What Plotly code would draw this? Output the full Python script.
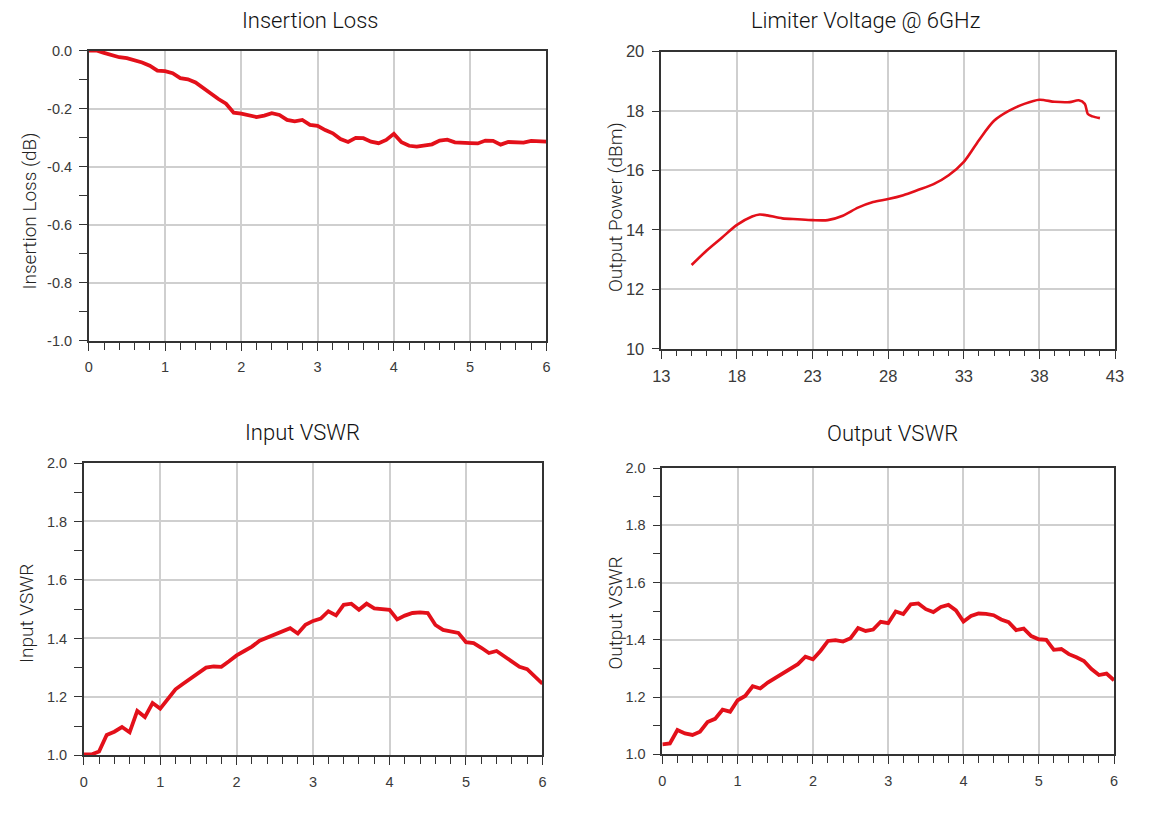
import plotly.graph_objects as go

# ---------------- data ----------------
freq = [round(i * 0.1, 1) for i in range(61)]

insertion_loss = [
    0.000, 0.000, -0.008, -0.015, -0.023, -0.026, -0.032, -0.041, -0.052, -0.069,
    -0.071, -0.078, -0.095, -0.099, -0.110, -0.129, -0.152, -0.167, -0.183, -0.214,
    -0.217, -0.222, -0.229, -0.224, -0.216, -0.222, -0.239, -0.244, -0.239, -0.256,
    -0.259, -0.274, -0.285, -0.305, -0.315, -0.301, -0.302, -0.314, -0.319, -0.308,
    -0.287, -0.316, -0.328, -0.331, -0.327, -0.323, -0.310, -0.307, -0.316, -0.319,
    -0.319, -0.320, -0.310, -0.311, -0.324, -0.315, -0.315, -0.317, -0.311, -0.311,
    -0.314,
]

input_vswr = [
    1.003, 1.003, 1.013, 1.070, 1.081, 1.097, 1.079, 1.152, 1.131, 1.179,
    1.160, 1.195, 1.226, 1.245, 1.264, 1.283, 1.300, 1.304, 1.303, 1.322,
    1.342, 1.357, 1.372, 1.392, 1.403, 1.412, 1.425, 1.435, 1.417, 1.447,
    1.460, 1.468, 1.493, 1.479, 1.515, 1.519, 1.498, 1.519, 1.503, 1.501,
    1.498, 1.465, 1.478, 1.487, 1.489, 1.487, 1.446, 1.429, 1.424, 1.419,
    1.387, 1.384, 1.368, 1.350, 1.357, 1.338, 1.323, 1.303, 1.295, 1.272,
    1.245,
]

output_vswr = [
    1.035, 1.038, 1.085, 1.073, 1.068, 1.079, 1.113, 1.124, 1.156, 1.149,
    1.189, 1.204, 1.238, 1.230, 1.251, 1.267, 1.282, 1.300, 1.315, 1.341,
    1.332, 1.361, 1.396, 1.399, 1.394, 1.406, 1.441, 1.431, 1.436, 1.463,
    1.458, 1.499, 1.490, 1.524, 1.527, 1.507, 1.497, 1.515, 1.522, 1.503,
    1.464, 1.483, 1.492, 1.491, 1.486, 1.471, 1.462, 1.434, 1.439, 1.413,
    1.402, 1.400, 1.365, 1.368, 1.350, 1.339, 1.326, 1.298, 1.277, 1.282,
    1.259,
]

limiter_vin = [15, 16, 17, 18, 19, 19.5, 20, 21, 22, 23, 24, 25, 26, 27, 28, 29,
               30, 31, 32, 33, 34, 35, 36, 37, 38, 39, 40, 40.6, 41, 41.2, 41.5, 42]
limiter_pout = [12.82, 13.31, 13.74, 14.17, 14.45, 14.52, 14.49, 14.39, 14.36, 14.33,
                14.33, 14.48, 14.75, 14.94, 15.04, 15.17, 15.35, 15.54, 15.84, 16.29,
                17.02, 17.67, 18.01, 18.24, 18.38, 18.31, 18.30, 18.36, 18.24, 17.90,
                17.82, 17.76]

il_ticks = [0.0, -0.2, -0.4, -0.6, -0.8, -1.0]
il_ticktext = ["0.0", "-0.2", "-0.4", "-0.6", "-0.8", "-1.0"]
vswr_ticks = [1.0, 1.2, 1.4, 1.6, 1.8, 2.0]
vswr_ticktext = ["1.0", "1.2", "1.4", "1.6", "1.8", "2.0"]
freq_ticks = [0, 1, 2, 3, 4, 5, 6]
lim_xticks = [13, 18, 23, 28, 33, 38, 43]
lim_yticks = [10, 12, 14, 16, 18, 20]

titles = ["Insertion Loss", "Limiter Voltage @ 6GHz", "Input VSWR", "Output VSWR"]
ytitles = ["Insertion Loss (dB)", "Output Power (dBm)", "Input VSWR", "Output VSWR"]

# ---------------- styling ----------------
W, H = 1148, 824
# page placement calibration: screen = A + B * figure_px
AX, BX = 16.2, 0.985
AY, BY = 16.5, 0.977

RED = "#e3101a"
GRID = "#cfcfcf"
AXLINE = "#333333"
TICKFONT = dict(family="Liberation Sans, Arial, sans-serif", size=14.5, color="#3a3a3a")
TICKFONT2 = dict(family="Liberation Sans Narrow, Arial Narrow, Liberation Sans, sans-serif",
                 size=16.5, color="#3a3a3a")


def fx(x):
    return ((x - AX) / BX) / W


def fy(y):
    return 1 - ((y - AY) / BY) / H


def px_dom_x(a, b):
    return [fx(a), fx(b)]


def px_dom_y(top, bottom):
    return [fy(bottom), fy(top)]


def axis_common():
    return dict(showline=True, linecolor=AXLINE, linewidth=1.6, mirror=True,
                showgrid=True, gridcolor=GRID, gridwidth=1.5, zeroline=False,
                ticks="outside", tickcolor=AXLINE, tickwidth=1.3, ticklen=8,
                ticklabelstandoff=4, fixedrange=True)


fig = go.Figure()

fig.add_trace(go.Scatter(x=freq, y=insertion_loss, mode="lines", xaxis="x", yaxis="y",
                         line=dict(color=RED, width=3.8), showlegend=False))
fig.add_trace(go.Scatter(x=limiter_vin, y=limiter_pout, mode="lines", xaxis="x2", yaxis="y2",
                         line=dict(color=RED, width=2.6, shape="spline", smoothing=0.8),
                         showlegend=False))
fig.add_trace(go.Scatter(x=freq, y=input_vswr, mode="lines", xaxis="x3", yaxis="y3",
                         line=dict(color=RED, width=3.8), showlegend=False))
fig.add_trace(go.Scatter(x=freq, y=output_vswr, mode="lines", xaxis="x4", yaxis="y4",
                         line=dict(color=RED, width=3.8), showlegend=False))

# panel boxes in reference pixels: (left, right, top, bottom)
boxes = [(88, 546, 50, 340), (661, 1115, 51, 348), (83, 542, 462, 754), (662, 1114, 467, 753)]

layout = dict(width=W, height=H, margin=dict(l=0, r=0, t=0, b=0),
              paper_bgcolor="white", plot_bgcolor="white", showlegend=False)

minor_x = dict(dtick=0.2, tick0=0, ticks="outside", ticklen=7, tickcolor=AXLINE,
               tickwidth=1.3, showgrid=False)
minor_y = dict(dtick=0.1, tick0=0, ticks="outside", ticklen=8, tickcolor=AXLINE,
               tickwidth=1.3, showgrid=False)

# Panel 1
layout["xaxis"] = dict(axis_common(), domain=px_dom_x(boxes[0][0], boxes[0][1]), anchor="y",
                       range=[0, 6], tickvals=freq_ticks, tickfont=TICKFONT, minor=minor_x)
layout["yaxis"] = dict(axis_common(), domain=px_dom_y(boxes[0][2], boxes[0][3]), anchor="x",
                       range=[-1, 0], tickvals=il_ticks, ticktext=il_ticktext, tickfont=TICKFONT,
                       minor=minor_y)
# Panel 2
layout["xaxis2"] = dict(axis_common(), domain=px_dom_x(boxes[1][0], boxes[1][1]), anchor="y2",
                        range=[13, 43], tickvals=lim_xticks, tickfont=TICKFONT2,
                        minor=dict(dtick=1, tick0=13, ticks="outside", ticklen=5,
                                   tickcolor=AXLINE, tickwidth=1.3, showgrid=False))
layout["yaxis2"] = dict(axis_common(), domain=px_dom_y(boxes[1][2], boxes[1][3]), anchor="x2",
                        range=[10, 20], tickvals=lim_yticks, tickfont=TICKFONT2)
# Panel 3
layout["xaxis3"] = dict(axis_common(), domain=px_dom_x(boxes[2][0], boxes[2][1]), anchor="y3",
                        range=[0, 6], tickvals=freq_ticks, tickfont=TICKFONT, minor=minor_x)
layout["yaxis3"] = dict(axis_common(), domain=px_dom_y(boxes[2][2], boxes[2][3]), anchor="x3",
                        range=[1, 2], tickvals=vswr_ticks, ticktext=vswr_ticktext, tickfont=TICKFONT,
                        minor=minor_y)
# Panel 4
layout["xaxis4"] = dict(axis_common(), domain=px_dom_x(boxes[3][0], boxes[3][1]), anchor="y4",
                        range=[0, 6], tickvals=freq_ticks, tickfont=TICKFONT, minor=minor_x)
layout["yaxis4"] = dict(axis_common(), domain=px_dom_y(boxes[3][2], boxes[3][3]), anchor="x4",
                        range=[1, 2], tickvals=vswr_ticks, ticktext=vswr_ticktext, tickfont=TICKFONT,
                        minor=minor_y)

fig.update_layout(**layout)

# Titles (reference-pixel positions)
title_pos = [(309, 20), (866, 20), (302, 432), (892, 433)]
ytitle_pos = [(29, 210), (615, 206), (25, 612), (615, 612)]
TITLEFONT = dict(family="Roboto, Liberation Sans, sans-serif", size=22, color="#111111",
                 weight=300)
YTITLEFONT = dict(family="Roboto, Liberation Sans, sans-serif", size=19, color="#222222",
                  weight=300)

for t, (x, y) in zip(titles, title_pos):
    fig.add_annotation(text=t, x=fx(x), y=fy(y), xref="paper", yref="paper",
                       showarrow=False, xanchor="center", yanchor="middle", font=TITLEFONT)
for t, (x, y) in zip(ytitles, ytitle_pos):
    fig.add_annotation(text=t, x=fx(x), y=fy(y), xref="paper", yref="paper",
                       showarrow=False, xanchor="center", yanchor="middle", textangle=-90,
                       font=YTITLEFONT)

fig.write_html("out.html")
